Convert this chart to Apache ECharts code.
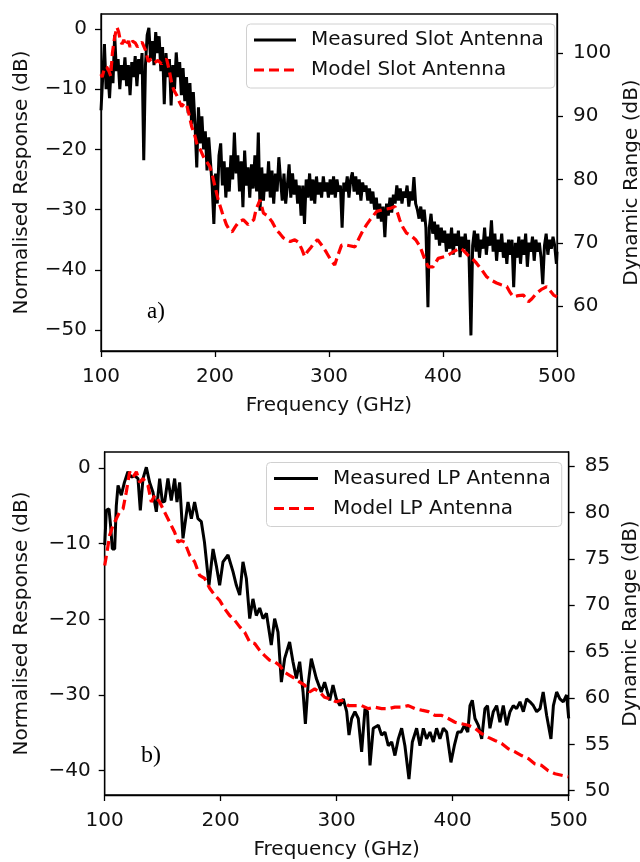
<!DOCTYPE html>
<html><head><meta charset="utf-8">
<script src="https://cdn.jsdelivr.net/npm/echarts@6.0.0/dist/echarts.min.js"></script>
<style>html,body{margin:0;padding:0;background:#fff;overflow:hidden}#c{width:640px;height:862px}</style>
</head><body><div id="c"></div>
<script>
const freqTicks = [100, 200, 300, 400, 500];
const slotLeftTicks = [-50, -40, -30, -20, -10, 0];
const slotRightTicks = [60, 70, 80, 90, 100];
const lpLeftTicks = [-40, -30, -20, -10, 0];
const lpRightTicks = [50, 55, 60, 65, 70, 75, 80, 85];

const slotNames = ['Measured Slot Antenna', 'Model Slot Antenna'];
const lpNames = ['Measured LP Antenna', 'Model LP Antenna'];

const slotMeasured = [
[100,-13.5],[101.5,-8],[103,-2.5],[104.5,-10],[106,-7],[107.5,-11.5],[109,-6],[110.5,-9],[112,-1],[113.5,-7],[115,-5],
[116.5,-10],[118,-6],[119.5,-8.5],[121,-4.7],[122.5,-9.5],[124,-6],[125.5,-11],[127,-5.5],[128.5,-8],[130,-4.5],[131.5,-9.5],[133,-5],[134.5,-7.5],[136,-4],[137.5,-21.8],[139,-6],
[140.5,-1],[142,0.2],[143.5,-5],[145,-2],[146.5,-6],[148,-0.5],[149.5,-4],[151,-1.2],[152.5,-7],[154,-3],[155.5,-12.5],[157,-4],
[158.5,-8],[160,-5],[161.5,-12.7],[163,-6],[164.5,-10],[166,-3.9],[167.5,-8],[169,-5.5],
[170.5,-11],[172,-6.5],[173.5,-12],[175,-8],[176.5,-14],[178,-9],[179.5,-15.8],[181,-10.5],
[182.5,-16],[184,-23],[185.5,-13],[187,-19],[188.5,-14.5],[190,-20],[191.5,-17],[193,-23.5],[194.5,-18],[196,-22],
[197.5,-26],[199,-32.4],[200.5,-24],[202,-29],
[203.5,-21],[205,-19],[206.5,-26],[208,-22],[209.5,-28],[211,-23],[212.5,-27],[214,-21],[215.5,-25],[217,-17.2],[218.5,-24],[220,-21],[221.5,-27],[223,-22],[224.5,-29.6],[226,-20.2],[227.5,-26],[229,-23],[230.5,-28],[232,-22.5],[233.5,-26.5],[235,-21],[236.5,-27],[238,-17.2],[239.5,-30.2],[241,-23],[242.5,-28.5],[244,-24],[245.5,-27],[247,-22],[248.5,-28],[250,-23.5],[251.5,-29],[253,-24],[254.5,-27],[256,-21.3],[257.5,-25],[259,-28.5],[260.5,-24],[262,-29],[263.5,-26],[265,-22.5],[266.5,-28],[268,-24],[269.5,-27.5],[271,-25],[272.5,-29],[274,-26],[275.5,-31],[277,-26],[278.5,-32.4],[280,-25],[281.5,-28],[283,-24],[284.5,-28.5],[286,-25],[287.5,-29],[289,-24.5],[290.5,-27.5],[292,-25.5],[293.5,-28],[295,-24.5],[296.5,-27],[298,-25.5],
[299.5,-28],[301,-25],[302.5,-27.5],[304,-24.5],[305.5,-28],[307,-25],[308.5,-27],[310,-26],[311.5,-33],[313,-25.5],[314.5,-27],[316,-24.5],[317.5,-28],[319,-25],[320.5,-23.8],[322,-27],[323.5,-24.5],[325,-27.5],[326.5,-25],[328,-28.5],[329.5,-25.5],[331,-27],[332.5,-26],[334,-28.5],[335.5,-26.5],[337,-29],[338.5,-27],
[340,-30],[341.5,-28],[343,-31.5],[344.5,-29],[346,-32],[347.5,-29.5],[349,-34.6],[350.5,-29],[352,-31],[353.5,-28],[355,-30.5],[356.5,-27.5],
[358,-29],[359.5,-26],[361,-28.5],[362.5,-26.5],[364,-29],[365.5,-27],[367,-28],[368.5,-26],[370,-29.5],[371.5,-27],[373,-28.5],[374.5,-24.6],[376,-29],
[377.5,-30],[379,-31.5],[380.5,-29.5],[382,-32],[383.5,-30],[385,-33],[386.8,-46.2],
[388,-33],[389.5,-30.7],[391,-34],[392.5,-32],[394,-35],[395.5,-32.5],[397,-36],[398.5,-33],[400,-35.5],[401.5,-33.5],[403,-37],[404.5,-34],[406,-36.5],[407.5,-33],[409,-37.5],[410.5,-34],[412,-36],[413.5,-33.5],[415,-37.9],[416.5,-34.5],[418,-36.5],[419.5,-34],[421,-37],[422.5,-35],[424.5,-50.9],
[426,-36],[427.5,-33.5],[429,-37],[430.5,-34],[432,-38],[433.5,-35],[435,-36.5],[436.5,-33],[438,-37.5],[439.5,-34.5],[441,-36],[442.5,-31.8],[444,-37],[445.5,-34],[447,-38.5],[448.5,-35],[450,-37],[451.5,-34],[453,-38],[454.5,-35.5],[456,-39],[457.5,-35],[459,-37.5],[460.5,-35],[462,-42.9],[463.5,-35.5],[465,-38],[466.5,-34.5],[468,-39],[469.5,-35],[471,-37.5],[472.5,-34],[474,-39.5],[475.5,-35.5],[477,-37],[478.5,-34.5],[480,-38.5],[481.5,-35],[483,-37],[484.5,-35.5],[486,-38],[487.5,-42.4],[489,-36],[490.5,-34],[492,-37.5],[493.5,-35],[495,-36.5],[496.5,-34.5],[498,-36],[499.5,-39],[500,-37]
];

const slotModel = [
[100,-7.5],[101,-8],[103,-6.5],[105,-6.3],[107,-7],[108.5,-7.8],[110,-4],[112,-1.3],[114,0.3],[115.5,-0.5],[117,-2],[118.5,-2.5],[120,-1.8],[122,-2.8],[124,-2],[125.5,-3],[127.5,-2],[130,-2.3],[132,-3],[134,-2.5],[136,-2.2],[137.5,-2],[139,-3.5],[141.5,-5.4],[144,-5],[147,-5.6],[150,-5.2],[153,-5.8],[155.5,-5.3],[157.6,-5],[160,-7],[162,-9],[164,-10.2],[166.4,-11],[168.5,-12],[170.8,-12.9],[173,-12.3],[175,-12.5],[177,-14],[179.5,-16.2],[182,-17.5],[184,-19],[187,-20],[189.8,-21.2],[192.5,-22],[195.6,-22.9],[198,-24.5],[200,-26.2],[203,-28.5],[206.5,-30.6],[210,-32.5],[213,-33.5],[215,-33.7],[218,-32.8],[221,-32],[225,-31.7],[229,-32.5],[232,-32],[234,-31.7],[236,-30],[239.5,-28.4],[242.5,-30.6],[246,-31],[250,-32],[254,-33.4],[257,-34],[260,-34.7],[266,-35.3],[270,-35],[273,-35.4],[276,-36.5],[278.7,-37.8],[281,-37],[284.5,-36.2],[287,-35.5],[290,-35],[294,-36],[298,-37.2],[302,-38.5],[305,-39.2],[308,-37.5],[311,-35.9],[315.5,-35.9],[318,-36],[322.8,-36.2],[327,-34.5],[330,-33.4],[333,-32.5],[336,-31.7],[341.8,-30.3],[347.6,-30],[353.5,-29.8],[357.9,-29.5],[360,-30.5],[362,-31.7],[365,-33],[368,-33.9],[372.5,-34.4],[376,-35],[380,-36.2],[383.5,-38],[387,-39.5],[391.4,-39.5],[395.8,-38.1],[401.7,-37.8],[405,-37.5],[409,-37],[415,-36.4],[418,-36.8],[422,-37.6],[426,-38.2],[429.4,-38.9],[434,-40],[438,-41.1],[442,-41.7],[447,-42.2],[451,-42.5],[456,-42.8],[459,-43.8],[461.7,-44.5],[466,-44.3],[470.5,-44.2],[475,-45.3],[478,-44.8],[482,-43.9],[486,-43.3],[491,-42.8],[494,-43.5],[497,-44.2],[500,-44.5]
];

const lpMeasured = [
[100,-10.2],[101.4,-5.6],[103.7,-5.4],[105,-7.5],[106.6,-10.7],[108.6,-10.7],[110,-5],[111.5,-2.3],[114.3,-3.6],[117,-1.9],[120,-0.5],[123,-1.2],[125.8,-1],[128.7,-1.4],[130.7,-5.6],[133,-1.4],[135.9,0.1],[138.7,-1.9],[141.6,-3.2],[144.5,-5.8],[147.4,-1.4],[149.7,-4.5],[151.8,-4.4],[154.5,-1.4],[157.4,-4.3],[160.3,-1.4],[162.3,-4.5],[164.6,-1.9],[167.5,-9.3],[171.8,-4.5],[174.7,-6.7],[177.5,-4.5],[180.4,-6.7],[183.3,-7.1],[186,-9.8],[189.9,-15.5],[193.4,-10.7],[196.2,-12.9],[199.1,-15.5],[202,-12.4],[206.3,-11.5],[210.6,-13.7],[213.5,-15.5],[216.4,-16.8],[219.2,-12.4],[222.1,-14.6],[225,-19.9],[227.8,-17.3],[230.7,-19.5],[233.6,-18.5],[236.5,-19.9],[239.4,-19.2],[243.6,-23.4],[246.5,-19.9],[249.4,-21.7],[252.3,-28.3],[255.1,-25.2],[259.4,-23],[262.3,-25.6],[265.2,-27.8],[268.1,-25.6],[271,-29.6],[273,-33.8],[275.3,-28.7],[278.1,-25.2],[282.4,-27.8],[286.7,-29.6],[289.6,-28.3],[294,-30.7],[296.8,-28.7],[299.7,-30.5],
[302.8,-31.4],[305.7,-30.5],[308.6,-32.2],[310.6,-35.3],[312.9,-33.1],[315.7,-32.2],[318.6,-33.1],[321.5,-37.5],[324.4,-31.8],[326.5,-32.2],[328.7,-39.3],[331.5,-34.4],[335.9,-34],[338.7,-35.3],[341.6,-34.9],[344.5,-36.7],[347.4,-36.2],[350.2,-38],[353.1,-35.8],[356,-34.4],[358.8,-36.7],[362.3,-41.1],[365.2,-36.2],[368.9,-34.4],[371.8,-36.7],[374.7,-34.4],[377.5,-35.8],[380.4,-34.9],[383.3,-36.2],[386.1,-34.4],[389,-35.8],[391.9,-34.4],[394.8,-34.9],[398.5,-38.9],[401.4,-36.7],[404.3,-34.9],[407.2,-34.9],[410,-34],[413,-34.9],[414.9,-31.4],[416.9,-30.7],[419.2,-33.1],[422.1,-34],[425,-35.8],[427.8,-31.8],[430,-31.4],[432.1,-34.4],[435,-32.2],[437.9,-31.4],[440.7,-33.6],[443.6,-31.4],[446.5,-34],[449.4,-32.2],[452.2,-31.4],[455.1,-31.8],[458,-30.9],[460.9,-32.2],[463.7,-30.5],[466.6,-30.9],[469.5,-31.4],[472.4,-32.2],[475.3,-31.8],[478,-29.6],[481,-32.7],[484.7,-35.8],[486.8,-31.4],[489.6,-29.6],[492.4,-30.5],[495.3,-30.9],[498.2,-30],[500,-33.1]
];

const lpModel = [
[100,-12.9],[102,-11.1],[104.3,-8.9],[107.1,-7.6],[110,-6.7],[112.9,-5.8],[115.8,-5.4],[118.6,-3.2],[121.5,-0.5],[124.4,-1.2],[127.3,-0.5],[130.1,-1.9],[133,-1.4],[137.3,-2.3],[140.2,-4.5],[143.1,-3.6],[147.4,-4.5],[150.2,-5.4],[154.5,-6.7],[157.4,-7.6],[160.3,-8.5],[163.2,-9.8],[166,-9.6],[168.9,-9.8],[173.2,-11.5],[177.5,-12.4],[181.8,-14.2],[186.2,-14.6],[190.5,-15.9],[194.8,-16.8],[199.1,-17.5],[203.4,-18.6],[207.7,-19.5],[212,-20.1],[216.4,-21],[220.7,-21.7],[225,-23],[229.3,-23.2],[233.6,-24.1],[237.9,-24.8],[242.2,-25.4],[246.5,-25.6],[250.8,-26.1],[255.1,-27],[259.4,-27.4],[263.8,-27.8],[268.1,-28.3],[272.4,-28.7],[276.7,-29.6],[281,-29.2],[285.3,-29.6],[289.6,-30.3],[294,-30.5],[299.7,-30.9],[304.2,-30.7],[310,-31.4],[315.7,-31.4],[321.5,-31.4],[327.2,-31.8],[333,-31.6],[338.7,-31.8],[344.5,-31.8],[350.2,-31.6],[356,-31.6],[361.7,-31.4],[367.5,-31.8],[373.2,-32],[379,-32.2],[384.7,-32.7],[390.5,-32.7],[396.2,-33.1],[402,-33.6],[407.7,-33.8],[413.4,-34],[419.2,-34.4],[425,-35.1],[430.7,-35.6],[436.4,-36],[442.2,-36.4],[447.9,-37.1],[453.7,-37.5],[459.4,-38],[465.2,-38.4],[470.9,-39.1],[476.7,-39.3],[482.4,-40],[488.2,-40.4],[493.9,-40.6],[499.6,-40.8]
];

const FONT = '"DejaVu Sans", sans-serif';
const FS = 20;
const TXT = '#111';
const minusFmt = v => String(v).replace('-', '\u2212');

function axis(extra, ticks, margin) {
  return Object.assign({
    type: 'value',
    splitLine: { show: false },
    axisLine: { show: true, onZero: false, lineStyle: { color: '#000', width: 1.3 } },
    axisTick: { show: true, inside: false, length: 6, lineStyle: { color: '#000', width: 1.3 }, customValues: ticks },
    axisLabel: { color: TXT, fontFamily: FONT, fontSize: FS, margin: margin, customValues: ticks, formatter: minusFmt },
    nameLocation: 'middle',
    nameTextStyle: { color: TXT, fontFamily: FONT, fontSize: FS }
  }, extra);
}

function legendBox(names, left, top, iw) {
  return {
    data: names, orient: 'vertical', left: left, top: top,
    padding: [6, 11, 8, 6], itemGap: 10, itemWidth: iw, itemHeight: 14,
    borderColor: '#d0d0d0', borderWidth: 1, borderRadius: 4, backgroundColor: 'rgba(255,255,255,0.85)',
    selectedMode: false,
    itemStyle: { opacity: 0 },
    lineStyle: { width: 3 },
    textStyle: { color: TXT, fontFamily: FONT, fontSize: FS, lineHeight: 20, padding: [0, 0, 0, 10] }
  };
}

const gridBase = { show: true, borderColor: '#000', borderWidth: 1.3, backgroundColor: 'transparent', containLabel: false, outerBoundsMode: 'none' };

const chart = echarts.init(document.getElementById('c'), null, { renderer: 'canvas' });
chart.setOption({
  animation: false,
  backgroundColor: '#fff',
  grid: [
    Object.assign({ left: 101, top: 14, width: 456, height: 337 }, gridBase),
    Object.assign({ left: 104.7, top: 452, width: 464, height: 343 }, gridBase)
  ],
  xAxis: [
    axis({ gridIndex: 0, min: 100, max: 500, position: 'bottom', name: 'Frequency (GHz)', nameGap: 45 }, freqTicks, 16),
    axis({ gridIndex: 1, min: 100, max: 500, position: 'bottom', name: 'Frequency (GHz)', nameGap: 45 }, freqTicks, 16)
  ],
  yAxis: [
    axis({ gridIndex: 0, min: -53.49, max: 2.49, position: 'left', name: 'Normalised Response (dB)', nameGap: 69 }, slotLeftTicks, 14),
    axis({ gridIndex: 0, min: 52.89, max: 106.17, position: 'right', name: 'Dynamic Range (dB)', nameGap: 62 }, slotRightTicks, 16),
    axis({ gridIndex: 1, min: -43.21, max: 2.11, position: 'left', name: 'Normalised Response (dB)', nameGap: 73 }, lpLeftTicks, 14),
    axis({ gridIndex: 1, min: 49.54, max: 86.51, position: 'right', name: 'Dynamic Range (dB)', nameGap: 51 }, lpRightTicks, 16)
  ],
  legend: [
    legendBox(slotNames, 246.5, 24, 42),
    legendBox(lpNames, 266.5, 462.5, 44)
  ],
  graphic: [
    { type: 'text', left: 147, top: 300, z: 100, style: { text: 'a)', font: '23px "Liberation Serif", serif', fill: '#000' } },
    { type: 'text', left: 141, top: 744, z: 100, style: { text: 'b)', font: '24px "Liberation Serif", serif', fill: '#000' } }
  ],
  series: [
    { type: 'line', name: slotNames[0], xAxisIndex: 0, yAxisIndex: 0, data: slotMeasured, symbol: 'none', z: 2,
      lineStyle: { color: '#000', width: 3 }, itemStyle: { color: '#000' } },
    { type: 'line', name: slotNames[1], xAxisIndex: 0, yAxisIndex: 0, data: slotModel, symbol: 'none', z: 3,
      lineStyle: { color: '#ff0000', width: 3.2, type: [10, 5] }, itemStyle: { color: '#ff0000' } },
    { type: 'line', name: lpNames[0], xAxisIndex: 1, yAxisIndex: 2, data: lpMeasured, symbol: 'none', z: 2,
      lineStyle: { color: '#000', width: 3 }, itemStyle: { color: '#000' } },
    { type: 'line', name: lpNames[1], xAxisIndex: 1, yAxisIndex: 2, data: lpModel, symbol: 'none', z: 3,
      lineStyle: { color: '#ff0000', width: 3.2, type: [10, 5] }, itemStyle: { color: '#ff0000' } }
  ]
});
</script>
</body></html>
